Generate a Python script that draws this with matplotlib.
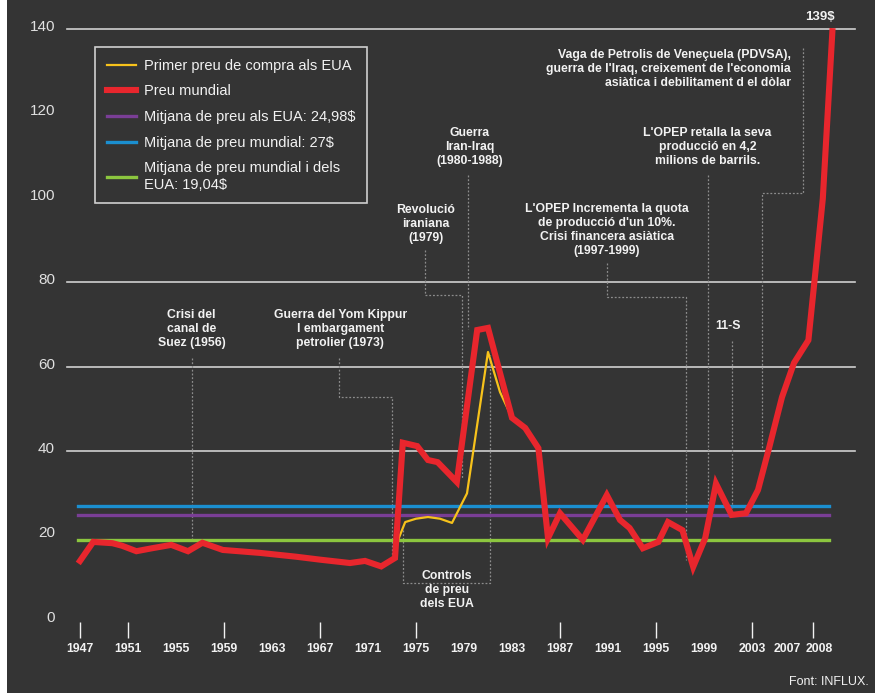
import matplotlib
matplotlib.use("Agg")
import matplotlib.pyplot as plt
from matplotlib.lines import Line2D

# world price (red)
world_years = [1947, 1948.1, 1949.7, 1950.5, 1951.7, 1953, 1954.6, 1956, 1957.2, 1958.9,
               1962, 1965, 1967, 1969.5, 1970.75, 1972.1, 1973.25, 1973.9, 1975.1, 1976,
               1976.8, 1978.4, 1980.1, 1981, 1983, 1984.1, 1985.2, 1986, 1987, 1988.9,
               1990.9, 1992, 1992.8, 1993.9, 1995.2, 1996, 1997.2, 1998.1, 1999.1, 2000,
               2001.3, 2002.5, 2003.5, 2004.4, 2005.5, 2006.5, 2007.7, 2008.3, 2008.9, 2009.7]
world_price = [14.0, 18.5, 18.2, 17.6, 16.3, 17.0, 17.8, 16.3, 18.3, 16.6,
               15.9, 15.0, 14.3, 13.5, 14.0, 12.7, 14.7, 42.0, 41.2, 37.9,
               37.4, 32.7, 68.7, 69.2, 47.9, 45.5, 40.7, 19.4, 25.3, 19.0,
               29.6, 23.7, 21.8, 17.0, 18.5, 23.2, 21.3, 12.6, 19.4, 32.3,
               24.9, 25.3, 30.8, 40.5, 52.8, 60.9, 66.3, 82.9, 99.8, 139.5]

# US first purchase price (yellow)
us_years = [1973.4, 1974.1, 1975, 1976, 1977, 1978, 1979.25, 1981, 1982, 1983]
us_price = [18.2, 23.2, 24.0, 24.4, 24.0, 23.0, 30.0, 63.5, 54.0, 47.9]

avg_values = [24.98, 27.0, 19.04]
avg_labels = ["Mitjana de preu als EUA: 24,98$",
              "Mitjana de preu mundial: 27$",
              "Mitjana de preu mundial i dels\nEUA: 19,04$"]
avg_colors = ["#7a3e96", "#1b8fd0", "#8cc63f"]

y_ticks = [0, 20, 40, 60, 80, 100, 120, 140]
grid_values = [40, 60, 80, 140]
x_labels = ["1947", "1951", "1955", "1959", "1963", "1967", "1971", "1975", "1979",
            "1983", "1987", "1991", "1995", "1999", "2003", "2007", "2008"]
x_label_pos = [1947, 1951, 1955, 1959, 1963, 1967, 1971, 1975, 1979,
               1983, 1987, 1991, 1995, 1999, 2003, 2005.9, 2008.6]
x_mark_pos = [1947, 1951, 1959, 1967, 1975, 1987, 1995, 2003, 2008.1]

# annotations: text, (x, y) centre, alignment, leader path
notes = [
    ("Crisi del\ncanal de\nSuez (1956)", (1956.3, 68.9), "center",
     [(1956.3, 62), (1956.3, 19.2)]),
    ("Guerra del Yom Kippur\nI embargament\npetrolier (1973)", (1968.7, 68.9), "center",
     [(1968.6, 62), (1968.6, 52.8), (1973.0, 52.8), (1973.0, 15.4)]),
    ("Revolució\niraniana\n(1979)", (1975.8, 93.8), "center",
     [(1975.75, 87.7), (1975.75, 77), (1978.8, 77), (1978.8, 33.6)]),
    ("Guerra\nIran-Iraq\n(1980-1988)", (1979.5, 112.1), "center",
     [(1979.3, 105.4), (1979.3, 69)]),
    ("Controls\nde preu\ndels EUA", (1977.6, 7.1), "center",
     [(1973.9, 21.3), (1973.9, 8.8), (1981.2, 8.8), (1981.2, 62.8)]),
    ("L'OPEP Incrementa la quota\nde producció d'un 10%.\nCrisi financera asiàtica\n(1997-1999)",
     (1990.9, 92.4), "center",
     [(1990.9, 84.6), (1990.9, 76.5), (1997.5, 76.5), (1997.5, 14.2)]),
    ("L'OPEP retalla la seva\nproducció en 4,2\nmilions de barrils.", (1999.3, 112.1), "center",
     [(1999.33, 105.4), (1999.33, 20.4)]),
    ("11-S", (2001.0, 69.7), "center",
     [(2001.33, 66.1), (2001.33, 26.3)]),
    ("Vaga de Petrolis de Veneçuela (PDVSA),\nguerra de l'Iraq, creixement de l'economia\nasiàtica i debilitament d el dòlar",
     (2006.25, 130.5), "right",
     [(2007.25, 135.5), (2007.25, 101.2), (2003.8, 101.2), (2003.8, 40.3)]),
]

BG = "#343434"
FG = "#f2f2f2"
sans = ["Liberation Sans", "DejaVu Sans"]


def main() -> None:
    fig = plt.figure(figsize=(8.75, 6.93), dpi=100)
    fig.patch.set_facecolor("white")
    ax = fig.add_axes([7 / 875, 0, 868 / 875, 1])
    ax.set_facecolor(BG)
    for s in ax.spines.values():
        s.set_visible(False)
    ax.set_xticks([])
    ax.set_yticks([])
    ax.set_xlim(1940.917, 2013.25)
    ax.set_ylim(-17.29, 146.88)

    for g in grid_values:
        ax.axhline(g, xmin=0.069, xmax=0.977, color="#d0d0d0", lw=1.2, zorder=1)

    for path_note in notes:
        xs = [p[0] for p in path_note[3]]
        ys = [p[1] for p in path_note[3]]
        ax.plot(xs, ys, color="#8c8c8c", lw=0.9, ls=(0, (1.5, 1.5)), zorder=2)

    avg_handles = []
    for v, lab, c in zip(avg_values, avg_labels, avg_colors):
        ax.axhline(v, xmin=0.0818, xmax=0.947, color=c, lw=2.4, zorder=3)
        avg_handles.append(Line2D([], [], color=c, lw=2.4, label=lab))

    us_line, = ax.plot(us_years, us_price, color="#f7c21b", lw=1.6, zorder=4,
                       label="Primer preu de compra als EUA")
    world_line, = ax.plot(world_years, world_price, color="#e8262d", lw=4.4, zorder=5,
                          solid_joinstyle="miter", label="Preu mundial")

    for txt, (x, y), ha, _ in notes:
        ax.text(x, y, txt, ha=ha, va="center", color=FG, fontsize=8.8,
                fontweight="bold", family=sans, linespacing=1.25,
                multialignment=ha, zorder=6)

    ax.text(2008.7, 142.9, "139$", ha="center", va="center", color=FG,
            fontsize=9.5, fontweight="bold", family=sans)

    for v in y_ticks:
        ax.text(1944.92, v + 0.5, str(v), ha="right", va="center", color="#e0e0e0",
                fontsize=11, family=sans)

    ax.vlines(x_mark_pos, -4.26, -0.47, color=FG, lw=1.0)
    for lab, x in zip(x_labels, x_label_pos):
        ax.text(x, -6.9, lab, ha="center", va="center", color=FG, fontsize=8.8,
                fontweight="bold", family=sans)

    ax.text(2012.7, -14.7, "Font: INFLUX.", ha="right", va="center", color=FG,
            fontsize=9, family=sans)

    handles = [us_line, world_line] + avg_handles
    leg = ax.legend(handles=handles, loc="upper left", bbox_to_anchor=(0.1014, 0.932),
                    borderaxespad=0, frameon=True, fancybox=False, facecolor=BG,
                    edgecolor="#cfcfcf", framealpha=1, handlelength=2.0,
                    handletextpad=0.55, labelspacing=0.8, borderpad=0.8,
                    prop={"family": sans, "size": 10.5})
    leg.get_frame().set_linewidth(1.2)
    for t in leg.get_texts():
        t.set_color(FG)
    leg.set_zorder(7)

    fig.savefig("out.png", dpi=100, facecolor=fig.get_facecolor())
    plt.close(fig)


if __name__ == "__main__":
    main()
